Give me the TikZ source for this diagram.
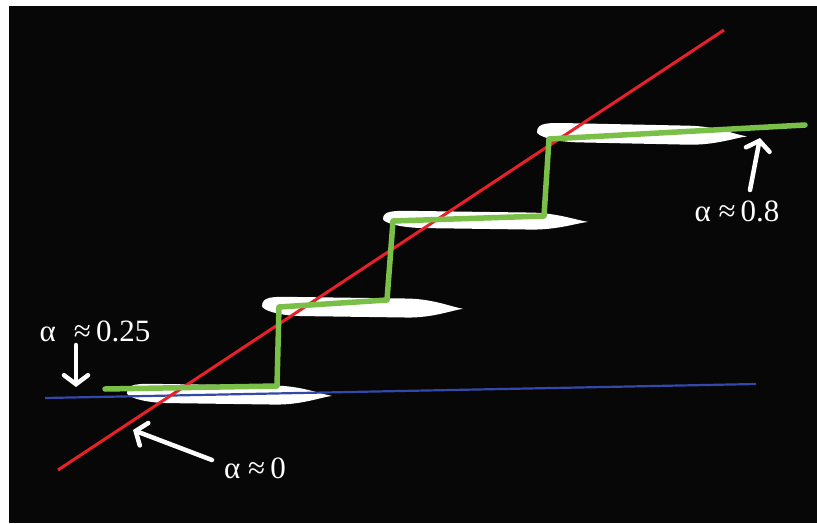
\documentclass[tikz,border=0pt]{standalone}
\usepackage{fontspec}
\setmainfont{Liberation Serif}
\usetikzlibrary{arrows.meta}
\definecolor{bgblack}{RGB}{7,7,7}
\definecolor{redline}{RGB}{232,32,40}
\definecolor{blueline}{RGB}{52,72,170}
\definecolor{greenline}{RGB}{122,192,72}
\tikzset{
  lbl/.style={text=white, font=\fontsize{31}{33}\selectfont, inner sep=0pt},
  whitearrow/.style={draw=white, line width=4.5pt, line cap=round,
    -{Straight Barb[length=9pt,width=24pt,line cap=round]}},
}
% leaf blob: #1 = left x, #2 = right x, #3 = center y, #4 = half height
\newcommand\leafblob[4]{%
  \fill[white] (#1,#3)
    .. controls (#1,#3-#4) and ({#1+0.05*(#2-#1)},#3-#4) .. ({#1+0.15*(#2-#1)},#3-#4)
    -- ({#1+0.72*(#2-#1)},#3-#4)
    .. controls ({#1+0.85*(#2-#1)},#3-#4) and ({#2-0.06*(#2-#1)},#3-0.2*#4) .. (#2,#3)
    .. controls ({#2-0.06*(#2-#1)},#3+0.2*#4) and ({#1+0.85*(#2-#1)},#3+#4) .. ({#1+0.72*(#2-#1)},#3+#4)
    -- ({#1+0.2*(#2-#1)},#3+#4)
    .. controls ({#1+0.08*(#2-#1)},#3+#4) and (#1,#3+0.4*#4) .. (#1,#3) -- cycle;}
\begin{document}
\begin{tikzpicture}[x=1pt,y=-1pt]
  \useasboundingbox (0,0) rectangle (817,523);
  \fill[white] (0,0) rectangle (817,523);
  \fill[bgblack] (9,6) rectangle (817,523);

  % blobs
  \begin{scope}[rotate around={-0.8:(127,393)}]\leafblob{127}{332}{393}{9.5}\end{scope}
  \begin{scope}[rotate around={-0.8:(262,306)}]\leafblob{262}{463}{306}{9.5}\end{scope}
  \begin{scope}[rotate around={-0.8:(383,219)}]\leafblob{383}{588}{219}{8.5}\end{scope}
  \begin{scope}[rotate around={-1.2:(537,132)}]\leafblob{537}{747}{132}{9.5}\end{scope}

  % blue line
  \coordinate (b1) at (45,398);
  \coordinate (b2) at (756,384);
  \draw[blueline, line width=2.2pt] (b1) -- (b2);

  % red line
  \coordinate (r1) at (58,470);
  \coordinate (r2) at (724,30);
  \draw[redline, line width=3pt] (r1) -- (r2);

  % green staircase
  \coordinate (g0) at (105,389);
  \coordinate (g1) at (277,386);
  \coordinate (g2) at (279,307);
  \coordinate (g3) at (387,300);
  \coordinate (g4) at (393,221);
  \coordinate (g5) at (544,216);
  \coordinate (g6) at (549,139);
  \coordinate (g7) at (805,125);
  \draw[greenline, line width=5.5pt, line cap=round, line join=round]
    (g0) -- (g1) -- (g2) -- (g3) -- (g4) -- (g5) -- (g6) -- (g7);

  % labels
  \node[lbl] (a25) at (95,331) {α\,\, ≈\,0.25};
  \node[lbl] (a08) at (737,211) {α ≈\,0.8};
  \node[lbl] (a00) at (255,468) {α ≈\,0};

  % arrows
  \coordinate (t25) at (76,345);
  \coordinate (h25) at (76,387);
  \draw[whitearrow] (t25) -- (h25);
  \coordinate (t08) at (750,190);
  \coordinate (h08) at (760,138);
  \draw[whitearrow] (t08) -- (h08);
  \coordinate (t00) at (212,460);
  \coordinate (h00) at (133,430);
  \draw[whitearrow] (t00) -- (h00);
\end{tikzpicture}
\end{document}
